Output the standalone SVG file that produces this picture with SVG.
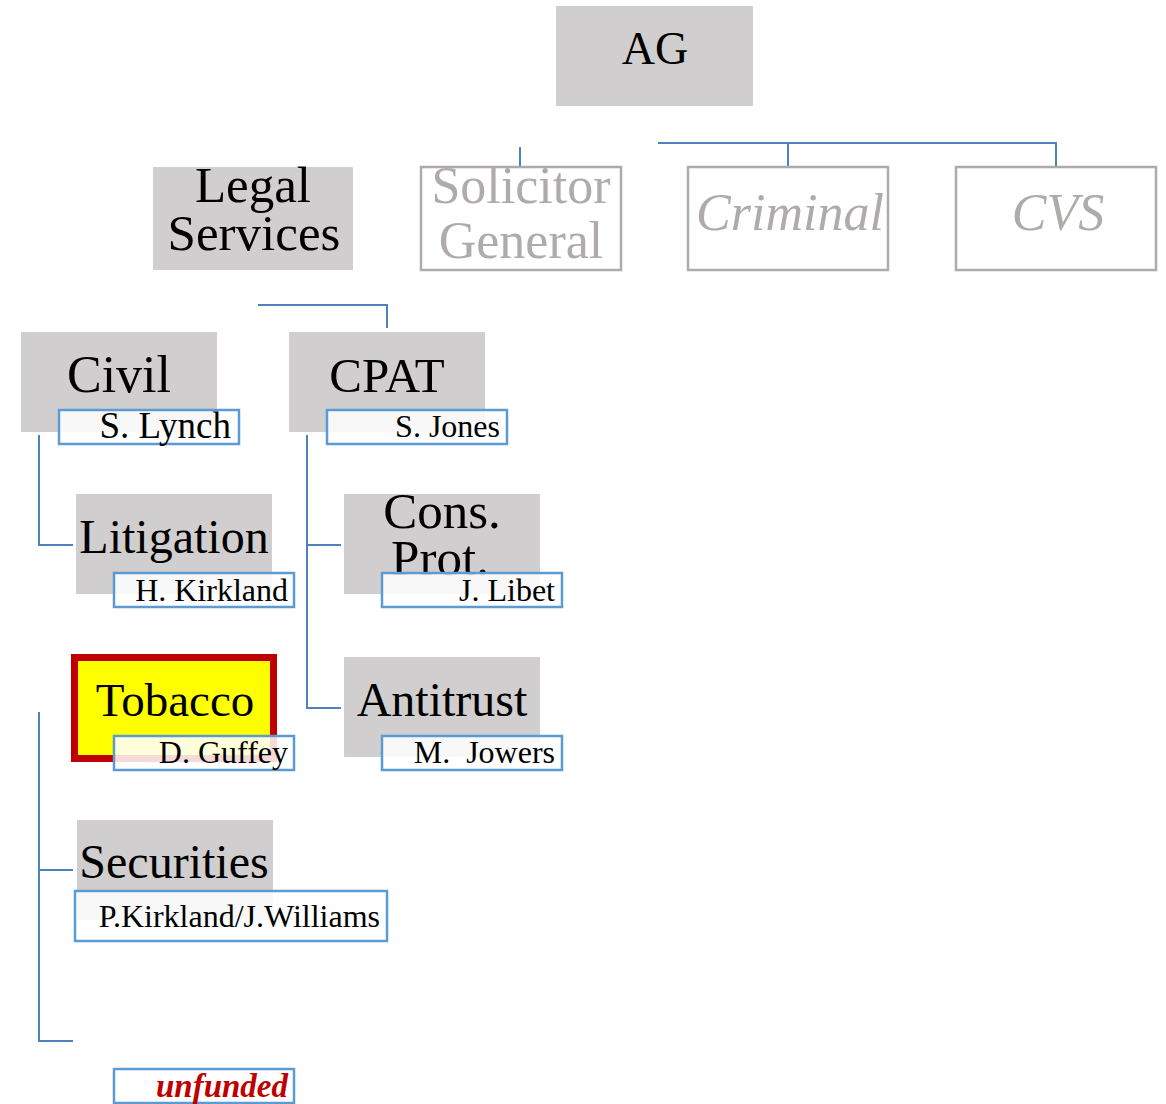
<svg xmlns="http://www.w3.org/2000/svg" width="1166" height="1104" viewBox="0 0 1166 1104">
<style>
.g{fill:#D0CECE}
.o{fill:#fff;stroke:#AFABAB;stroke-width:2.5}
.t{font-family:"Liberation Serif","Times New Roman",serif;fill:#000;text-anchor:middle}
.gt{font-family:"Liberation Serif","Times New Roman",serif;fill:#AFABAB;text-anchor:middle}
.nb{fill:#fff;fill-opacity:0.85;stroke:#5B9BD5;stroke-width:2.5}
.nt{font-family:"Liberation Serif","Times New Roman",serif;fill:#000;text-anchor:end;font-size:32px}
.c{fill:none;stroke:#4F81BD;stroke-width:2}
</style>
<rect width="1166" height="1104" fill="#fff"/>
<g id="connectors">
<path class="c" d="M520,147V166"/>
<path class="c" d="M658,143H1056V166M788,143V166"/>
<path class="c" d="M258,305H387V328"/>
<path class="c" d="M39,435V545H73"/>
<path class="c" d="M307,435V708H341M307,545H341"/>
<path class="c" d="M39,712V1041H73M39,870H73"/>
</g>
<g id="ag">
<rect class="g" x="556" y="6" width="197" height="100"/>
<text class="t" x="655" y="64" font-size="46">AG</text>
</g>
<g id="legal">
<rect class="g" x="153" y="167" width="200" height="103"/>
<text class="t" x="253" y="202" font-size="51">Legal</text>
<text class="t" x="254" y="250" font-size="51">Services</text>
</g>
<g id="solicitor">
<rect class="o" x="421" y="167" width="200" height="103"/>
<text class="gt" x="521" y="203" font-size="52">Solicitor</text>
<text class="gt" x="521" y="258" font-size="52">General</text>
</g>
<g id="criminal">
<rect class="o" x="688" y="167" width="200" height="103"/>
<text class="gt" x="790" y="230" font-size="52" font-style="italic">Criminal</text>
</g>
<g id="cvs">
<rect class="o" x="956" y="167" width="200" height="103"/>
<text class="gt" x="1058" y="230" font-size="52" font-style="italic">CVS</text>
</g>
<g id="civil">
<rect class="g" x="21" y="332" width="196" height="100"/>
<text class="t" x="119" y="392" font-size="52">Civil</text>
<rect class="nb" x="59" y="410" width="180" height="34"/>
<text class="nt" x="231" y="438" style="font-size:37px">S. Lynch</text>
</g>
<g id="cpat">
<rect class="g" x="289" y="332" width="196" height="100"/>
<text class="t" x="387" y="392" font-size="49">CPAT</text>
<rect class="nb" x="327" y="410" width="180" height="34"/>
<text class="nt" x="500" y="437">S. Jones</text>
</g>
<g id="litigation">
<rect class="g" x="76" y="494" width="196" height="100"/>
<text class="t" x="174" y="553" font-size="48">Litigation</text>
<rect class="nb" x="114" y="573" width="180" height="34"/>
<text class="nt" x="288" y="601">H. Kirkland</text>
</g>
<g id="consprot">
<rect class="g" x="344" y="494" width="196" height="100"/>
<text class="t" x="442" y="528" font-size="51">Cons.</text>
<text class="t" x="440" y="575" font-size="51">Prot.</text>
<rect class="nb" x="382" y="573" width="180" height="34"/>
<text class="nt" x="555" y="601">J. Libet</text>
</g>
<g id="tobacco">
<rect x="74.5" y="657.5" width="199" height="101" fill="#FFFF00" stroke="#C00000" stroke-width="7"/>
<text class="t" x="175" y="716" font-size="47">Tobacco</text>
<rect class="nb" x="114" y="736" width="180" height="34"/>
<text class="nt" x="288" y="763">D. Guffey</text>
</g>
<g id="antitrust">
<rect class="g" x="344" y="657" width="196" height="100"/>
<text class="t" x="442" y="716" font-size="48">Antitrust</text>
<rect class="nb" x="382" y="736" width="180" height="34"/>
<text class="nt" x="555" y="763" xml:space="preserve">M.  Jowers</text>
</g>
<g id="securities">
<rect class="g" x="77" y="820" width="196" height="100"/>
<text class="t" x="174" y="878" font-size="48">Securities</text>
<rect class="nb" x="75" y="891" width="312" height="50"/>
<text class="nt" x="380" y="927">P.Kirkland/J.Williams</text>
</g>
<g id="unfunded">
<rect class="nb" x="114" y="1069" width="180" height="34"/>
<text class="nt" x="288" y="1097" font-weight="bold" font-style="italic" style="fill:#C00000;font-size:33px">unfunded</text>
</g>
</svg>
